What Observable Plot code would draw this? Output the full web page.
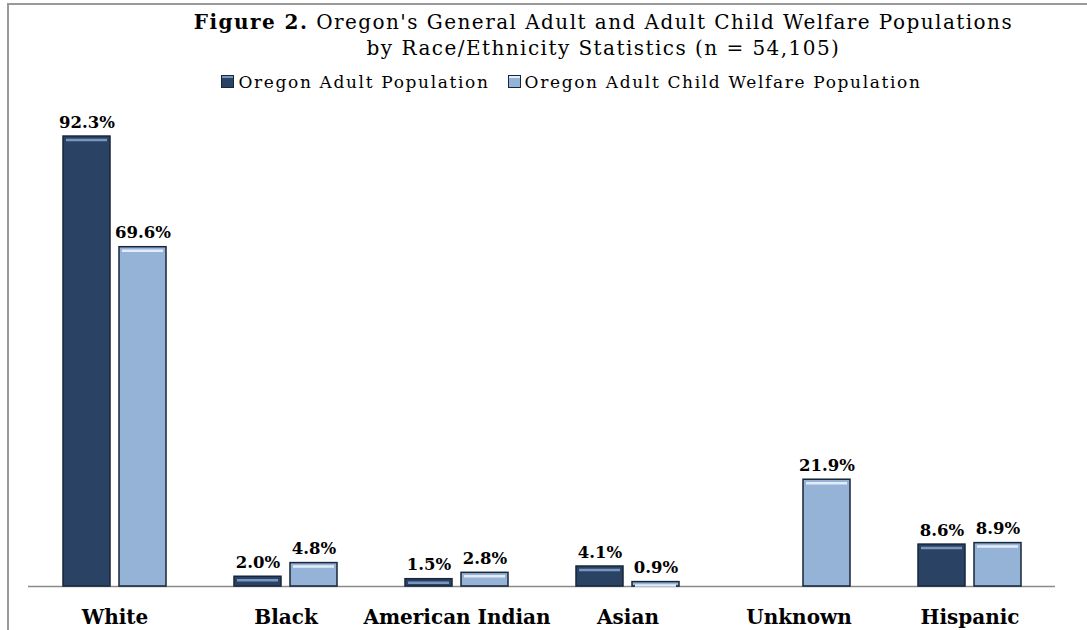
<!DOCTYPE html>
<html><head><meta charset="utf-8">
<script src="https://cdn.jsdelivr.net/npm/d3@7"></script>
<script src="https://cdn.jsdelivr.net/npm/@observablehq/plot@0.6"></script>
<style>
body{margin:0;background:#fff;}
#wrap{position:relative;width:1087px;height:630px;overflow:hidden;font-family:"DejaVu Serif",serif;color:#000;}
#frame{position:absolute;left:7px;top:3px;width:1200px;height:800px;border-left:2px solid #999;border-top:2px solid #999;pointer-events:none;}
#title{position:absolute;top:9px;left:60px;width:1087px;text-align:center;font-size:20px;letter-spacing:1.45px;line-height:26px;}
#title b{font-weight:bold;}
#legend{position:absolute;top:71px;left:28px;width:1087px;text-align:center;font-size:17px;letter-spacing:1.65px;line-height:22px;white-space:nowrap;}
.sw{display:inline-block;width:11px;height:11px;border:1px solid #17263a;margin-right:4px;vertical-align:0px;}
.item{margin:0 9px;}
#chart{position:absolute;left:0;top:100px;}
#chart svg text{font-family:"DejaVu Serif",serif;}
</style></head>
<body>
<div id="wrap">
  <div id="frame"></div>
  <div id="title"><b>Figure 2.</b> Oregon's General Adult and Adult Child Welfare Populations<br>by Race/Ethnicity Statistics (n = 54,105)</div>
  <div id="legend"></div>
  <div id="chart"></div>
</div>
<script>
const categories = ["White", "Black", "American Indian", "Asian", "Unknown", "Hispanic"];
const seriesNames = ["Oregon Adult Population", "Oregon Adult Child Welfare Population"];
const adultValues = [92.3, 2.0, 1.5, 4.1, null, 8.6];
const welfareValues = [69.6, 4.8, 2.8, 0.9, 21.9, 8.9];
const seriesColors = ["#2a4264", "#95b3d7"];
const highlightColors = ["#7896c0", "#e3ecf7"];

const rows = [];
categories.forEach((c, i) => {
  if (adultValues[i] != null) rows.push({category: c, series: seriesNames[0], value: adultValues[i]});
  if (welfareValues[i] != null) rows.push({category: c, series: seriesNames[1], value: welfareValues[i]});
});
const fmt = v => v.toFixed(1) + "%";

const legend = document.getElementById("legend");
legend.innerHTML = seriesNames.map((s, i) =>
  `<span class="item"><span class="sw" style="background:${seriesColors[i]};box-shadow:inset 0 2px 0 ${highlightColors[i]}"></span>${s}</span>`).join("");

const off = 28, inset = 62;
const marks = [Plot.ruleY([0], {stroke: "#8a8a8a", strokeWidth: 1.5})];
seriesNames.forEach((s, i) => {
  const d = rows.filter(r => r.series === s);
  const dx = i === 0 ? -off : off;
  marks.push(
    Plot.barY(d, {x: "category", y: "value", dx, insetLeft: inset, insetRight: inset,
      fill: seriesColors[i], stroke: "#17263a", strokeWidth: 1.5}),
    Plot.tickY(d, {x: "category", y: "value", dx, dy: 3.5, insetLeft: inset + 3, insetRight: inset + 3,
      stroke: highlightColors[i], strokeWidth: 2.5}),
    Plot.text(d, {x: "category", y: "value", dx, dy: -9, text: d => fmt(d.value), lineAnchor: "bottom",
      fontSize: 16.5, fontWeight: "bold", fill: "#000"})
  );
});
marks.push(Plot.axisX({tickSize: 0, tickPadding: 23, fontSize: 20, fontWeight: "bold", fill: "#000"}));

const chart = Plot.plot({
  width: 1087,
  height: 530,
  marginTop: 14,
  marginBottom: 44,
  marginLeft: 28,
  marginRight: 32,
  x: {domain: categories, padding: 0, label: null},
  y: {domain: [0, 472 / 4.875], axis: null},
  style: {background: "transparent", color: "#000", fontFamily: "DejaVu Serif, serif"},
  marks
});
document.getElementById("chart").appendChild(chart);
</script>
</body></html>
